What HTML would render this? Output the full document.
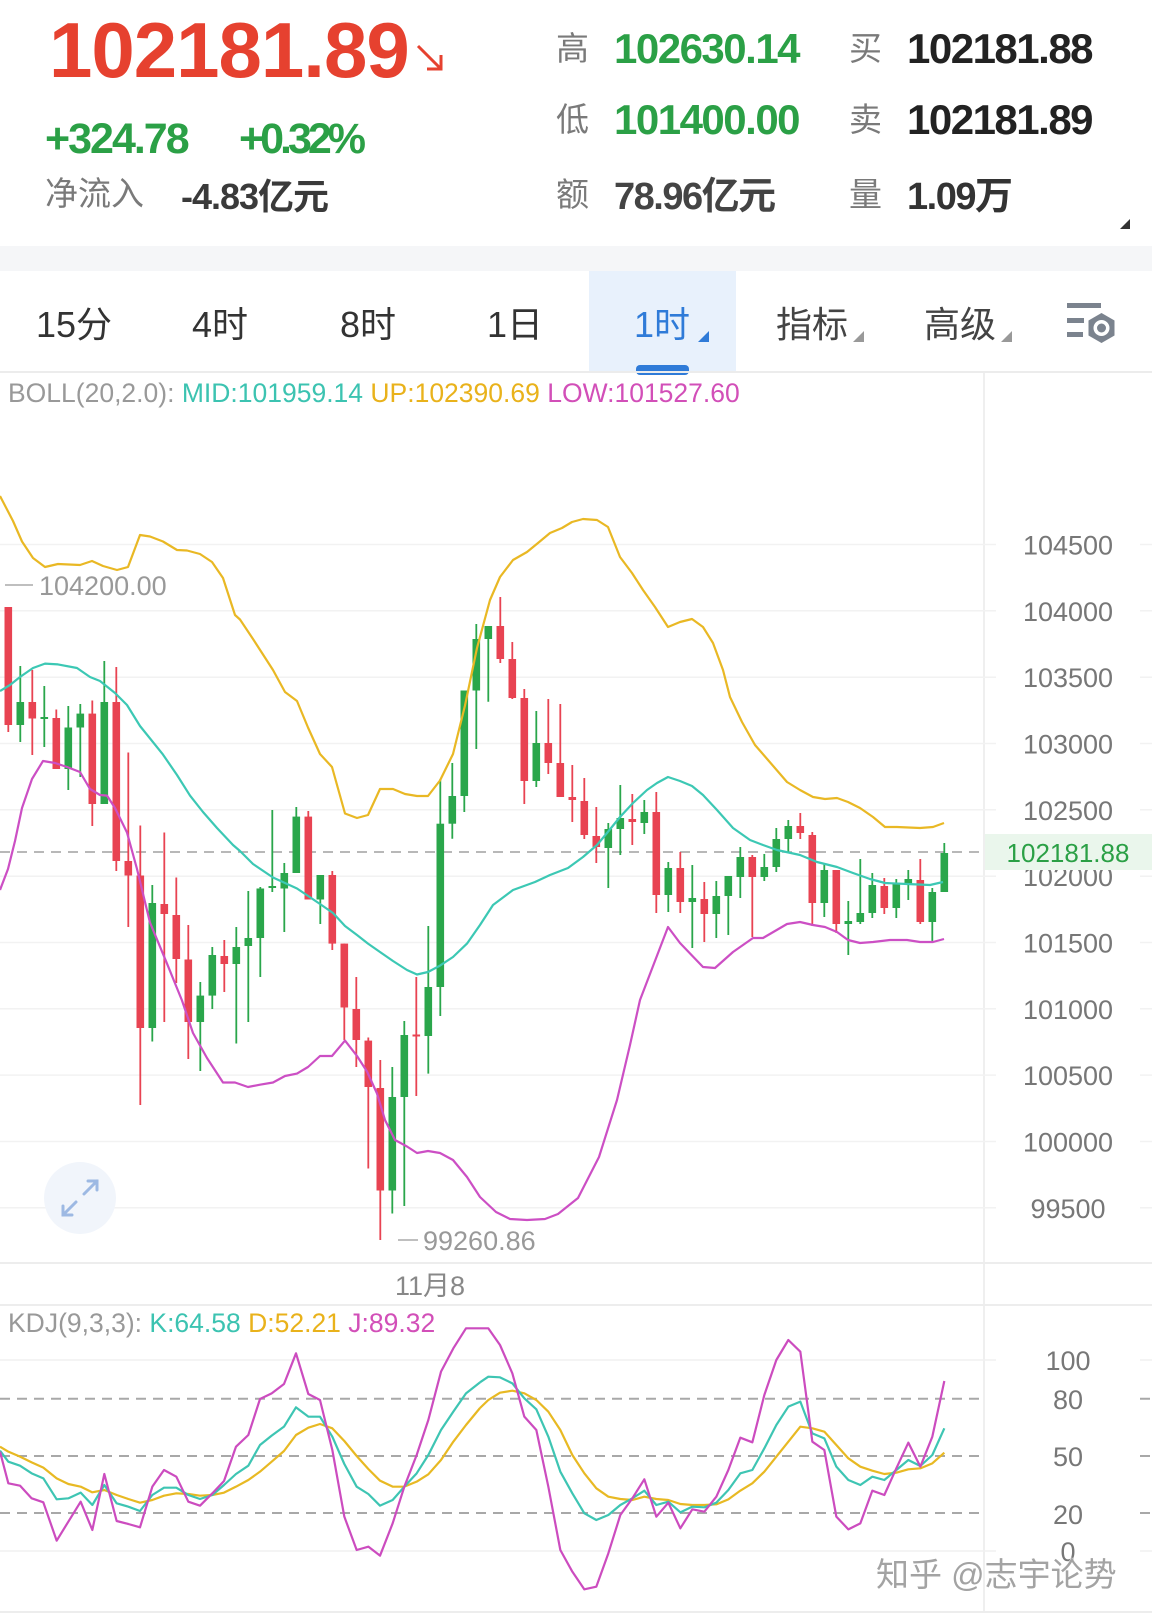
<!DOCTYPE html>
<html><head><meta charset="utf-8"><style>
html,body{margin:0;padding:0;background:#fff;}
svg{display:block;}
text{font-family:"Liberation Sans","Noto Sans CJK SC",sans-serif;}
</style></head><body>
<svg width="1152" height="1620" viewBox="0 0 1152 1620" xmlns="http://www.w3.org/2000/svg">
<rect width="1152" height="1620" fill="#fff"/>
<!-- header -->
<text x="49" y="77" font-size="78" font-weight="bold" fill="#e6412f" letter-spacing="-1">102181.89</text>
<g stroke="#e6412f" stroke-width="3" fill="none"><path d="M418 46L441 69M441 55V69H427"/></g>
<text x="45" y="153" font-size="43" font-weight="bold" fill="#2ba046" letter-spacing="-2">+324.78</text>
<text x="239" y="153" font-size="43" font-weight="bold" fill="#2ba046" letter-spacing="-4">+0.32%</text>
<text x="45" y="205" font-size="33" fill="#7a7a7a">净流入</text>
<text x="181" y="209" font-size="36" font-weight="bold" fill="#3a3a3a" letter-spacing="-1">-4.83亿元</text>

<text x="556" y="60" font-size="33" fill="#7a7a7a">高</text>
<text x="614" y="63" font-size="42" font-weight="bold" fill="#2ba046" letter-spacing="-1.5">102630.14</text>
<text x="849" y="60" font-size="33" fill="#7a7a7a">买</text>
<text x="907" y="63" font-size="42" font-weight="bold" fill="#222" letter-spacing="-1.5">102181.88</text>
<text x="556" y="131" font-size="33" fill="#7a7a7a">低</text>
<text x="614" y="134" font-size="42" font-weight="bold" fill="#2ba046" letter-spacing="-1.5">101400.00</text>
<text x="849" y="131" font-size="33" fill="#7a7a7a">卖</text>
<text x="907" y="134" font-size="42" font-weight="bold" fill="#222" letter-spacing="-1.5">102181.89</text>
<text x="556" y="206" font-size="33" fill="#7a7a7a">额</text>
<text x="614" y="209" font-size="38" font-weight="bold" fill="#444" letter-spacing="-1.5">78.96亿元</text>
<text x="849" y="206" font-size="33" fill="#7a7a7a">量</text>
<text x="907" y="209" font-size="38" font-weight="bold" fill="#333" letter-spacing="-1.5">1.09万</text>
<polygon points="1120,229 1130,229 1130,219" fill="#333"/>

<rect x="0" y="246" width="1152" height="25" fill="#f5f6f8"/>

<!-- tabs -->
<rect x="589" y="271" width="147" height="101" fill="#e8f1fc"/>
<text x="36" y="337" font-size="36" fill="#333">15分</text>
<text x="192" y="337" font-size="36" fill="#333">4时</text>
<text x="340" y="337" font-size="36" fill="#333">8时</text>
<text x="487" y="337" font-size="36" fill="#333">1日</text>
<text x="634" y="337" font-size="36" fill="#2f7bd8">1时</text>
<polygon points="698,342 709,342 709,331" fill="#2f7bd8"/>
<text x="776" y="337" font-size="36" fill="#444">指标</text>
<polygon points="853,342 864,342 864,331" fill="#999"/>
<text x="924" y="337" font-size="36" fill="#444">高级</text>
<polygon points="1001,342 1012,342 1012,331" fill="#999"/>
<rect x="636" y="365" width="53" height="10" rx="4" fill="#2f7bd8"/>
<g fill="#7b838e">
<rect x="1067" y="303" width="34" height="5"/>
<rect x="1067" y="318" width="17" height="5"/>
<rect x="1067" y="332" width="16" height="5"/>
<polygon points="1101.5,313 1114.5,320.5 1114.5,335.5 1101.5,343 1088.5,335.5 1088.5,320.5"/>
</g>
<circle cx="1101.5" cy="328" r="8" fill="#fff"/>
<circle cx="1101.5" cy="328" r="4.5" fill="#7b838e"/>
<rect x="0" y="371" width="1152" height="2" fill="#ececec"/>

<!-- main chart grid -->
<line x1="984" y1="373" x2="984" y2="1612" stroke="#efefef" stroke-width="2"/>
<g stroke="#f2f2f2" stroke-width="1.5">
<path d="M0 544.5H996M1140 544.5H1152M0 610.8H996M1140 610.8H1152M0 677.2H996M1140 677.2H1152M0 743.5H996M1140 743.5H1152M0 809.8H996M1140 809.8H1152M0 876.2H996M1140 876.2H1152M0 942.5H996M1140 942.5H1152M0 1008.8H996M1140 1008.8H1152M0 1075.1H996M1140 1075.1H1152M0 1141.5H996M1140 1141.5H1152M0 1207.8H996M1140 1207.8H1152"/>
</g>
<g font-size="27" fill="#777" text-anchor="middle">
<text x="1068" y="554.5">104500</text>
<text x="1068" y="620.8">104000</text>
<text x="1068" y="687.2">103500</text>
<text x="1068" y="753.5">103000</text>
<text x="1068" y="819.8">102500</text>
<text x="1068" y="886.2">102000</text>
<text x="1068" y="952.5">101500</text>
<text x="1068" y="1018.8">101000</text>
<text x="1068" y="1085.1">100500</text>
<text x="1068" y="1151.5">100000</text>
<text x="1068" y="1217.8">99500</text>
</g>
<rect x="985" y="834" width="167" height="36" fill="#eaf6ec"/>
<text x="1068" y="862" font-size="26" fill="#2ba046" text-anchor="middle">102181.88</text>

<text x="8" y="402" font-size="26.5" fill="#999">BOLL(20,2.0): <tspan fill="#3cc3b1">MID:101959.14 </tspan><tspan fill="#e9b21b">UP:102390.69 </tspan><tspan fill="#d24fb8">LOW:101527.60</tspan></text>

<line x1="5" y1="585" x2="33" y2="585" stroke="#aaa" stroke-width="1.5"/>
<text x="39" y="595" font-size="27" fill="#999">104200.00</text>
<line x1="398" y1="1240" x2="418" y2="1240" stroke="#aaa" stroke-width="1.5"/>
<text x="423" y="1250" font-size="27" fill="#999">99260.86</text>

<line x1="0" y1="852" x2="984" y2="852" stroke="#a0a0a0" stroke-width="1.6" stroke-dasharray="10 7"/>

<!-- candles red -->
<g stroke="#e84352" stroke-width="1.8" fill="none">
<path d="M8.3 607V732M32.3 670V755M56.3 709.5V769M92.3 700.5V826M116.3 667V871M128.3 752.5V927M140.3 825.5V1105M164.3 832.5V1022M176.3 877.5V983M188.3 925V1059M224.3 940V992M308.3 811V899.5M332.3 871V950M344.3 943.6V1040M356.3 977V1067M368.3 1037.5V1168.5M380.3 1060V1240M416.3 977V1096M500.3 597V663M512.3 642V699M524.3 689V804M548.3 699V774M560.3 704V797M572.3 765V822M584.3 778V839M596.3 807V863M632.3 794V845M656.3 792V913M680.3 852V913M704.3 882V942M752.3 855V937M800.3 813V839M812.3 832V926M836.3 870V933M884.3 878V914M920.3 859V924"/>
</g>
<g fill="#e84352">
<rect x="4.5" y="607" width="7.6" height="118"/>
<rect x="28.5" y="702" width="7.6" height="16.5"/>
<rect x="52.5" y="718" width="7.6" height="51"/>
<rect x="88.5" y="713.6" width="7.6" height="90.4"/>
<rect x="112.5" y="702" width="7.6" height="159"/>
<rect x="124.5" y="861" width="7.6" height="14.5"/>
<rect x="136.5" y="875.5" width="7.6" height="152.5"/>
<rect x="160.5" y="904" width="7.6" height="10"/>
<rect x="172.5" y="915" width="7.6" height="44"/>
<rect x="184.5" y="959.5" width="7.6" height="62.5"/>
<rect x="220.5" y="956" width="7.6" height="8"/>
<rect x="304.5" y="816.6" width="7.6" height="82.9"/>
<rect x="328.5" y="875" width="7.6" height="68.6"/>
<rect x="340.5" y="943.6" width="7.6" height="63.9"/>
<rect x="352.5" y="1009" width="7.6" height="31"/>
<rect x="364.5" y="1040.6" width="7.6" height="46.4"/>
<rect x="376.5" y="1088" width="7.6" height="102.5"/>
<rect x="412.5" y="1034.5" width="7.6" height="2"/>
<rect x="496.5" y="626" width="7.6" height="33"/>
<rect x="508.5" y="659" width="7.6" height="39"/>
<rect x="520.5" y="698" width="7.6" height="83"/>
<rect x="544.5" y="743" width="7.6" height="20"/>
<rect x="556.5" y="763" width="7.6" height="34"/>
<rect x="568.5" y="797" width="7.6" height="3"/>
<rect x="580.5" y="801" width="7.6" height="34"/>
<rect x="592.5" y="836" width="7.6" height="11"/>
<rect x="628.5" y="819" width="7.6" height="3"/>
<rect x="652.5" y="812" width="7.6" height="83"/>
<rect x="676.5" y="868" width="7.6" height="34"/>
<rect x="700.5" y="899" width="7.6" height="15"/>
<rect x="748.5" y="857" width="7.6" height="20"/>
<rect x="796.5" y="826" width="7.6" height="7"/>
<rect x="808.5" y="835" width="7.6" height="68"/>
<rect x="832.5" y="870" width="7.6" height="54"/>
<rect x="880.5" y="886" width="7.6" height="22"/>
<rect x="916.5" y="880" width="7.6" height="42"/>
</g>
<!-- candles green -->
<g stroke="#2aa64b" stroke-width="1.8" fill="none">
<path d="M20.3 666V742M44.3 686V747M68.3 706V790M80.3 704V777M104.3 661V804M152.3 885V1041.5M200.3 982V1071M212.3 947V1009M236.3 927V1043.5M248.3 891V1022M260.3 887V977M272.3 810V892M284.3 863V932M296.3 807V873M320.3 875V924M392.3 1067V1213.5M404.3 1021V1206M428.3 926V1073.6M440.3 779V1016M452.3 763V838.7M464.3 690.5V812M476.3 624V749M488.3 626V701.7M536.3 711V787M608.3 823V888M620.3 785V855M644.3 800V834M668.3 862V912M692.3 865V948M716.3 881V938M728.3 876V935M740.3 847V898M764.3 854V881M776.3 828V872M788.3 820V852M824.3 864V917M848.3 901V955M860.3 859V924M872.3 873V918M896.3 879V918M908.3 870V900M932.3 888V942M944.3 843V892"/>
</g>
<g fill="#2aa64b">
<rect x="16.5" y="702" width="7.6" height="23"/>
<rect x="40.5" y="717" width="7.6" height="2"/>
<rect x="64.5" y="727.5" width="7.6" height="41.5"/>
<rect x="76.5" y="713.6" width="7.6" height="13.9"/>
<rect x="100.5" y="702" width="7.6" height="102"/>
<rect x="148.5" y="903" width="7.6" height="125"/>
<rect x="196.5" y="995.6" width="7.6" height="26.4"/>
<rect x="208.5" y="955" width="7.6" height="40.6"/>
<rect x="232.5" y="947" width="7.6" height="17"/>
<rect x="244.5" y="938" width="7.6" height="8"/>
<rect x="256.5" y="888.5" width="7.6" height="49.5"/>
<rect x="268.5" y="886" width="7.6" height="2"/>
<rect x="280.5" y="873" width="7.6" height="15.5"/>
<rect x="292.5" y="816.6" width="7.6" height="56.4"/>
<rect x="316.5" y="875" width="7.6" height="24.5"/>
<rect x="388.5" y="1097" width="7.6" height="93.5"/>
<rect x="400.5" y="1035" width="7.6" height="62"/>
<rect x="424.5" y="987" width="7.6" height="49"/>
<rect x="436.5" y="823.7" width="7.6" height="163.3"/>
<rect x="448.5" y="796" width="7.6" height="27.7"/>
<rect x="460.5" y="690.5" width="7.6" height="105.5"/>
<rect x="472.5" y="639" width="7.6" height="51.5"/>
<rect x="484.5" y="626" width="7.6" height="13"/>
<rect x="532.5" y="743" width="7.6" height="38"/>
<rect x="604.5" y="829" width="7.6" height="19"/>
<rect x="616.5" y="818" width="7.6" height="11"/>
<rect x="640.5" y="812" width="7.6" height="11"/>
<rect x="664.5" y="868" width="7.6" height="27"/>
<rect x="688.5" y="898" width="7.6" height="4"/>
<rect x="712.5" y="896" width="7.6" height="18"/>
<rect x="724.5" y="876" width="7.6" height="20"/>
<rect x="736.5" y="857" width="7.6" height="20"/>
<rect x="760.5" y="867" width="7.6" height="10"/>
<rect x="772.5" y="839" width="7.6" height="28"/>
<rect x="784.5" y="826" width="7.6" height="13"/>
<rect x="820.5" y="870" width="7.6" height="33"/>
<rect x="844.5" y="921" width="7.6" height="3"/>
<rect x="856.5" y="913" width="7.6" height="9"/>
<rect x="868.5" y="885" width="7.6" height="28"/>
<rect x="892.5" y="884" width="7.6" height="24"/>
<rect x="904.5" y="879" width="7.6" height="5"/>
<rect x="928.5" y="892" width="7.6" height="30"/>
<rect x="940.5" y="853" width="7.6" height="39"/>
</g>

<!-- BOLL lines -->
<g fill="none" stroke-width="2.2" stroke-linejoin="round">
<polyline stroke="#e9b824" points="0,496 13,521 22,541.5 33,558 45,567 58,564 80,565 92,561 103,566 117,570 128,567 140,535 150,536.5 163,541.5 177,550 187,550.5 200,554 212,562 223,578 235,615 240,619.5 253,639 273,670 285,692 297,701 308,727.5 320,754 332,767 345,813.5 357,818 368,815 380,789 393,789 405,794 417,796 428,796 440,780.5 453,754 465,705.5 477,648 490,600 500,577 513,560 527,552 538,543 550,533 562,528 572,522 583,519 597,520 608,527 620,557 632,573 643,590 655,607 668,627 680,622 692,619 703,627 713,643 723,670 730,697 742,722 755,745 768,760 787,782 800,790 813,797 825,799 837,798 848,802 860,808 873,817 885,827 897,827 920,828 933,827 944,823"/>
<polyline stroke="#3cc8b4" points="0,691 10,685 20,677 33,668 45,663.6 58,664.4 77,668 90,677 100,681 115,693 127,705 140,726 163,754.6 177,775 190,795.6 203,812 217,828 233,845 240,851 253,864 273,877.5 297,888.5 320,904 333,913 345,926 357,935 368,943.6 380,952 393,961 407,970 417,974.5 428,972 440,965.6 453,957 467,943.6 480,925 493,905 513,890 535,882 550,875 568,868 583,857 597,845 607,833 620,817 633,803 647,790 657,783 668,777 680,781 692,786 703,795 717,810 733,828 750,840 763,845 777,850 800,855 817,862 837,867 853,873 870,879 885,883 907,884 930,885 943,882"/>
<polyline stroke="#cc4fc4" points="0,890 8,869 15,841 22,808 32,779 43,761 55,763 67,767 80,772 90,789 100,795 107,795.6 115,808 127,832.5 137,869 150,922.6 167,963.6 182,1000.5 193,1033 207,1058 223,1082.5 235,1082.5 248,1087 260,1084.7 273,1082.5 285,1076 297,1073.6 308,1067 320,1056 332,1056 345,1040.6 357,1056 367,1071.5 377,1093.5 385,1120 395,1140 407,1146.5 417,1153 428,1151 440,1153 453,1160 467,1177 480,1197 496,1212 510,1219 527,1220 545,1219 558,1214 578,1198 599,1157 617,1100 630,1045 640,1000 668,927 680,943 703,967 715,968 733,952 753,938 763,938 787,924 800,922 813,925 825,927 837,932 848,940 860,943 873,942 890,940 907,940 920,942 933,942 944,939"/>
</g>

<!-- expand icon -->
<circle cx="80" cy="1198" r="36" fill="#f1f5fb"/>
<g stroke="#9db9e3" stroke-width="3" fill="none" stroke-linecap="round">
<path d="M84 1194L97 1181M88 1181H97V1190M76 1202L63 1215M63 1206V1215H72"/>
</g>

<!-- date axis -->
<rect x="0" y="1262" width="1152" height="2" fill="#ededed"/>
<text x="395" y="1295" font-size="27" fill="#888">11月8</text>
<rect x="0" y="1304" width="1152" height="2" fill="#ededed"/>

<!-- KDJ -->
<text x="8" y="1332" font-size="26.5" fill="#999">KDJ(9,3,3): <tspan fill="#3cc3b1">K:64.58 </tspan><tspan fill="#e9b21b">D:52.21 </tspan><tspan fill="#d24fb8">J:89.32</tspan></text>
<g stroke="#f0f0f0" stroke-width="1.5"><path d="M0 1360H996M1140 1360H1152M0 1551H996M1140 1551H1152"/></g>
<g stroke="#a8a8a8" stroke-width="2" stroke-dasharray="10 7"><path d="M0 1398.7H984M1140 1398.7H1152M0 1456H984M1140 1456H1152M0 1513H984M1140 1513H1152"/></g>
<g font-size="27" fill="#777" text-anchor="middle">
<text x="1068" y="1370">100</text>
<text x="1068" y="1409">80</text>
<text x="1068" y="1466">50</text>
<text x="1068" y="1524">20</text>
<text x="1068" y="1561">0</text>
</g>
<g fill="none" stroke-width="2.2" stroke-linejoin="round">
<g transform="translate(0,1320) scale(0.333333)">
<polyline vector-effect="non-scaling-stroke" stroke="#e8b923" points="0,380 25,395 60,410 95,427 130,443 170,475 205,492 242,500 277,517 313,510 350,525 385,537 420,548 457,540 492,527 529,520 565,522 600,527 637,525 672,518 708,500 745,480 780,455 815,425 852,393 888,345 925,323 960,312 997,325 1033,363 1070,408 1105,447 1140,482 1178,500 1213,500 1250,485 1285,463 1323,420 1360,365 1398,315 1440,264"/>
<polyline vector-effect="non-scaling-stroke" stroke="#3ec5b3" points="0,392 25,425 60,437 95,460 130,475 170,538 205,535 242,518 277,555 313,495 350,550 385,560 420,573 457,525 492,503 529,503 565,525 600,537 637,525 672,495 708,462 745,437 780,375 815,347 852,320 888,262 925,290 960,290 997,350 1033,432 1070,500 1105,522 1140,557 1178,540 1213,500 1250,460 1285,405 1323,330 1360,275 1398,220 1440,187"/>
<polyline vector-effect="non-scaling-stroke" stroke="#cc4cbf" points="0,395 25,490 60,497 95,535 130,547 170,662 205,605 242,545 277,630 313,462 350,603 385,612 420,622 457,500 492,450 529,470 565,545 600,557 637,520 672,483 708,380 745,345 780,237 815,220 852,192 888,100 925,222 960,240 997,390 1033,590 1070,690 1105,680 1140,707 1178,610 1213,500 1250,405 1285,300 1323,155 1360,85 1398,25 1440,25"/>
</g>
<g transform="translate(480,1320) scale(0.333333)">
<polyline vector-effect="non-scaling-stroke" stroke="#e8b923" points="0,264 25,240 60,218 97,212 133,220 169,240 205,275 241,330 277,405 313,460 349,505 385,530 421,537 457,540 493,530 529,537 565,540 601,552 637,555 673,555 709,553 745,538 781,512 817,490 853,455 889,410 925,365 961,320 997,325 1033,335 1069,375 1105,415 1141,440 1177,452 1213,462 1249,458 1285,448 1321,445 1357,430 1393,398"/>
<polyline vector-effect="non-scaling-stroke" stroke="#3ec5b3" points="0,187 25,170 60,172 97,190 133,235 169,268 205,350 241,455 277,520 313,580 349,600 385,585 421,555 457,535 493,512 529,555 565,545 601,577 637,560 673,562 709,548 745,510 781,460 817,450 853,385 889,315 925,260 961,245 997,340 1033,355 1069,440 1105,480 1141,495 1177,470 1213,480 1249,450 1285,420 1321,438 1357,405 1393,325"/>
<polyline vector-effect="non-scaling-stroke" stroke="#cc4cbf" points="0,25 25,25 60,75 97,160 133,290 169,330 205,500 241,690 277,755 313,808 349,800 385,700 421,585 457,535 493,478 529,590 565,548 601,625 637,568 673,575 709,530 745,450 781,353 817,367 853,225 889,120 925,60 961,95 997,365 1033,390 1069,590 1105,628 1141,610 1177,512 1213,525 1249,445 1285,368 1321,440 1357,350 1393,183"/>
</g>
</g>

<text x="876" y="1586" font-size="33" fill="#a3a3a3" stroke="#fff" stroke-width="0.8" paint-order="stroke">知乎 @志宇论势</text>
<rect x="0" y="1611" width="1152" height="2" fill="#ededed"/>
</svg>
</body></html>
